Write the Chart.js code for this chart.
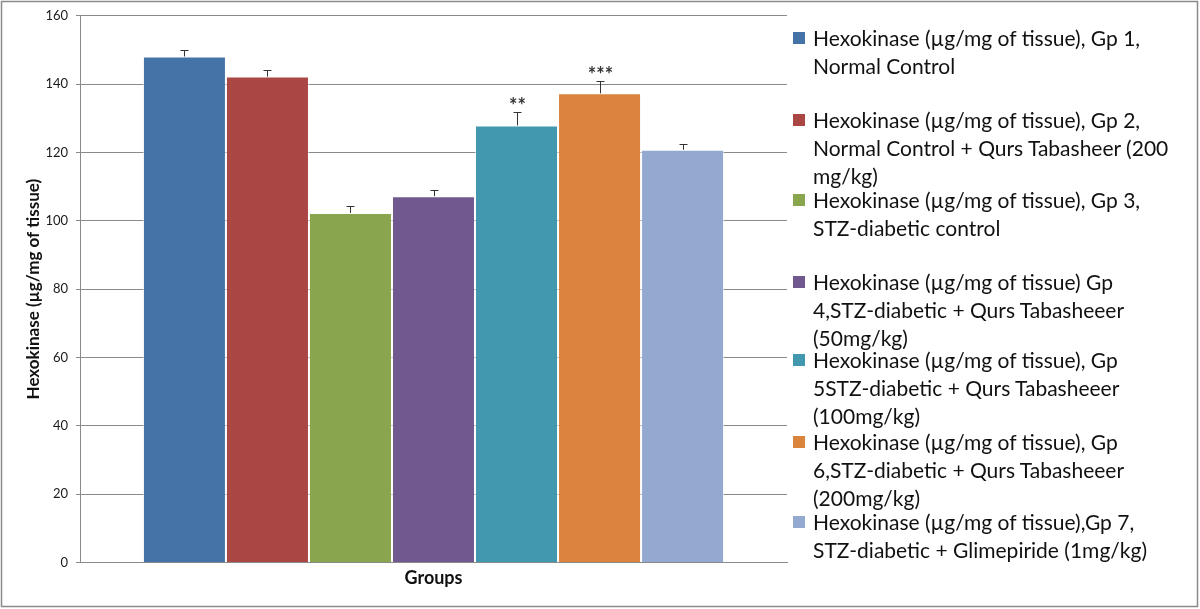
<!DOCTYPE html>
<html>
<head>
<meta charset="utf-8">
<script src="https://cdn.jsdelivr.net/npm/chart.js@4.4.0/dist/chart.umd.min.js"></script>
<style>
  html, body { margin: 0; padding: 0; background: #fff; }
  #wrap { position: relative; width: 1200px; height: 609px; }
  #c { position: absolute; left: 0; top: 0; }
  .leg { position: absolute; left: 790px; font-family: Lato, "Open Sans", sans-serif; font-size: 21px; line-height: 28px; color: #111; white-space: nowrap; }
  .leg .sw { position: absolute; left: 3px; top: 8px; width: 12px; height: 12px; }
  .leg .tx { position: absolute; left: 23px; top: 0; }
</style>
</head>
<body>
<div id="wrap">
  <canvas id="c" width="1200" height="609"></canvas>
</div>
<script>
// ---- data ----
const categories = [''];
const legendLines = [
  ['Hexokinase (µg/mg of tissue), Gp 1,', 'Normal Control'],
  ['Hexokinase (µg/mg of tissue), Gp 2,', 'Normal Control + Qurs Tabasheer (200', 'mg/kg)'],
  ['Hexokinase (µg/mg of tissue), Gp 3,', 'STZ-diabetic control'],
  ['Hexokinase (µg/mg of tissue) Gp', '4,STZ-diabetic + Qurs Tabasheeer', '(50mg/kg)'],
  ['Hexokinase (µg/mg of tissue), Gp', '5STZ-diabetic + Qurs Tabasheeer', '(100mg/kg)'],
  ['Hexokinase (µg/mg of tissue), Gp', '6,STZ-diabetic + Qurs Tabasheeer', '(200mg/kg)'],
  ['Hexokinase (µg/mg of tissue),Gp 7,', 'STZ-diabetic + Glimepiride (1mg/kg)']
];
const seriesNames = legendLines.map(l => l.join(' '));
const meanValues = [148.1, 142.2, 102.3, 107.2, 127.9, 137.3, 120.8];
const errorValues = [1.8, 1.9, 1.9, 1.9, 3.8, 3.6, 1.7];
const significance = ['', '', '', '', '**', '***', ''];
const colors = ['#4572A7', '#AA4643', '#89A54E', '#71588F', '#4198AF', '#DB843D', '#93A9CF'];
const yTicks = [0, 20, 40, 60, 80, 100, 120, 140, 160];
const yTitle = 'Hexokinase (µg/mg of tissue)';
const xTitle = 'Groups';
const legendTops = [24, 106, 186, 268, 346, 428, 508];

// ---- legend (HTML) ----
const wrap = document.getElementById('wrap');
legendLines.forEach((lines, i) => {
  const d = document.createElement('div');
  d.className = 'leg';
  d.style.top = legendTops[i] + 'px';
  const sw = document.createElement('div');
  sw.className = 'sw';
  sw.style.background = colors[i];
  const tx = document.createElement('div');
  tx.className = 'tx';
  tx.innerHTML = lines.map(s => s.replace(/&/g, '&amp;').replace(/</g, '&lt;')).join('<br>');
  d.appendChild(sw); d.appendChild(tx);
  wrap.appendChild(d);
});

// ---- plugins ----
const errorBars = {
  id: 'errorBars',
  afterDatasetsDraw(chart) {
    const ctx = chart.ctx, ys = chart.scales.y;
    ctx.save();
    ctx.strokeStyle = '#333';
    ctx.lineWidth = 1;
    chart.data.datasets.forEach((ds, i) => {
      const bar = chart.getDatasetMeta(i).data[0];
      if (!bar) return;
      const x = Math.round(bar.x) + 0.5;
      const yt = Math.round(ys.getPixelForValue(meanValues[i] + errorValues[i])) + 0.5;
      ctx.beginPath();
      ctx.moveTo(x, bar.y);
      ctx.lineTo(x, yt);
      ctx.moveTo(x - 4, yt);
      ctx.lineTo(x + 4, yt);
      ctx.stroke();
      if (significance[i]) {
        ctx.fillStyle = '#333';
        ctx.font = 'bold 20px Lato, sans-serif';
        ctx.textAlign = 'center';
        ctx.textBaseline = 'middle';
        ctx.fillText(significance[i], x, yt - 6);
      }
    });
    ctx.restore();
  }
};
const frame = {
  id: 'frame',
  afterDraw(chart) {
    const ctx = chart.ctx;
    ctx.save();
    ctx.strokeStyle = '#8a8a8a';
    ctx.lineWidth = 1.5;
    ctx.strokeRect(1.5, 1.5, 1196, 605);
    ctx.restore();
  }
};

Chart.defaults.font.family = 'Lato, "Open Sans", sans-serif';
Chart.defaults.color = '#222';

new Chart(document.getElementById('c'), {
  type: 'bar',
  data: {
    labels: categories,
    datasets: seriesNames.map((name, i) => ({
      label: name,
      data: [meanValues[i]],
      backgroundColor: colors[i],
      borderColor: 'rgba(255,255,255,0.55)',
      borderWidth: 1
    }))
  },
  options: {
    responsive: false,
    animation: false,
    events: [],
    layout: { padding: { left: 2, right: 413, top: 15.5, bottom: 0 } },
    plugins: { legend: { display: false }, tooltip: { enabled: false } },
    datasets: { bar: { barPercentage: 1, categoryPercentage: 0.822 } },
    scales: {
      x: {
        ticks: { display: false },
        grid: { display: false },
        border: { color: '#8a8a8a' },
        title: { display: true, text: xTitle, font: { size: 18, weight: 'bold' }, color: '#111', padding: { top: 0, bottom: 20 } },
        afterFit(s) { s.height = 46.5; }
      },
      y: {
        min: 0, max: 160,
        afterBuildTicks(s) { s.ticks = yTicks.map(v => ({ value: v })); },
        ticks: { font: { size: 13 }, padding: 8, color: '#1a1a1a' },
        grid: { color: '#8a8a8a', tickLength: 4 },
        border: { color: '#8a8a8a' },
        title: { display: true, text: yTitle, font: { size: 17, weight: 'bold' }, color: '#111', padding: { top: 21, bottom: 0 } },
        afterFit(s) { s.width = 78; }
      }
    }
  },
  plugins: [errorBars, frame]
});
</script>
</body>
</html>
